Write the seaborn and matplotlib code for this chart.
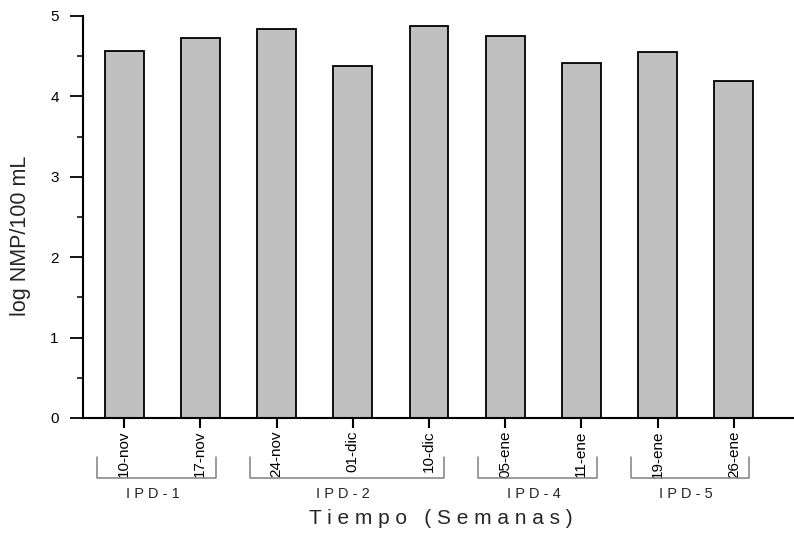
import pandas as pd
import numpy as np
import seaborn as sns
import matplotlib.pyplot as plt
from matplotlib.ticker import MultipleLocator

# data
fechas = ['10-nov', '17-nov', '24-nov', '01-dic', '10-dic', '05-ene', '11-ene', '19-ene', '26-ene']
log_nmp = [4.56, 4.73, 4.84, 4.38, 4.87, 4.75, 4.42, 4.55, 4.19]

grupos = ['I P D - 1', 'I P D - 2', 'I P D - 4', 'I P D - 5']
grupo_idx = [[0, 1], [2, 3, 4], [5, 6], [7, 8]]

df = pd.DataFrame({'Fecha': fechas, 'logNMP': log_nmp})

sns.set_style('ticks')
plt.rcParams['font.family'] = ['Liberation Sans', 'DejaVu Sans']

fig = plt.figure(figsize=(7.94, 5.33), dpi=100)
ax = fig.add_axes([0.1045, 0.2158, 0.8945, 0.7542])

sns.barplot(data=df, x='Fecha', y='logNMP', color='#c0c0c0', width=0.51,
            edgecolor='black', linewidth=1.3, saturation=1, ax=ax)

ax.set_ylim(0, 5)
ax.set_xlim(-0.54, 8.78)
ax.yaxis.set_major_locator(MultipleLocator(1))
ax.yaxis.set_minor_locator(MultipleLocator(0.5))
sns.despine(ax=ax)
for s in ['left', 'bottom']:
    ax.spines[s].set_linewidth(1.5)
    ax.spines[s].set_color('black')

ax.tick_params(axis='y', which='major', length=9.5, width=1.3, labelsize=11, pad=8, colors='black')
ax.tick_params(axis='y', which='minor', length=4.5, width=1.3)
ax.tick_params(axis='x', which='major', length=7, width=1.5, labelsize=11, pad=2, colors='black')
ax.set_xticks(range(len(fechas)))
ax.set_xticklabels(fechas, rotation=90)

ax.set_ylabel('log NMP/100 mL', fontsize=15.5)
ax.yaxis.set_label_coords(-0.073, 0.453)
ax.set_xlabel('')

# group brackets under the tick labels
trans = ax.get_xaxis_transform()
for nombre, idx in zip(grupos, grupo_idx):
    x0 = idx[0] - 0.35
    x1 = idx[-1] + 0.2
    ax.plot([x0, x0, x1, x1], [-0.097, -0.149, -0.149, -0.097], color='#808080',
            linewidth=1.1, transform=trans, clip_on=False)
    ax.text((x0 + x1) / 2 - 0.05, -0.19, nombre, transform=trans, ha='center', va='center',
            fontsize=10.5)

ax.text(4.15, -0.25, 'T i e m p o   ( S e m a n a s )', transform=trans,
        ha='center', va='center', fontsize=15)

fig.savefig('out.png', dpi=100)
